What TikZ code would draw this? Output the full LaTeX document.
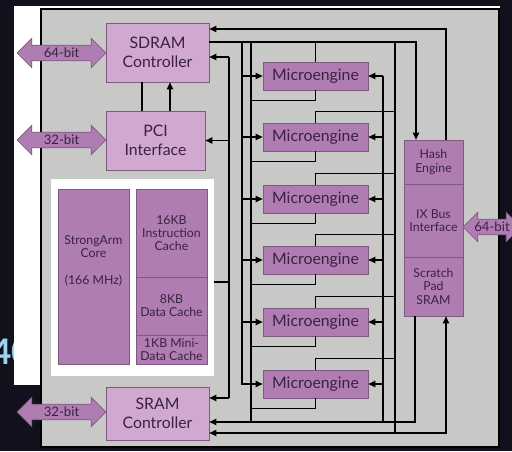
\documentclass[tikz,border=0pt]{standalone}
\usepackage{fontspec}
\setmainfont{Lato}
\usetikzlibrary{arrows.meta,shapes.arrows}

\definecolor{chipgray}{HTML}{C8C9C6}
\definecolor{lightpurple}{HTML}{D0A8D0}
\definecolor{darkpurple}{HTML}{B07DB2}
\definecolor{boxedge}{HTML}{7D5A80}
\definecolor{inkpurple}{HTML}{3A2140}
\definecolor{slate}{HTML}{10111C}
\definecolor{slideblue}{HTML}{9ED3F0}

\tikzset{
  ctrl/.style={draw=boxedge, fill=lightpurple, text=inkpurple, align=center,
    inner sep=0pt, font=\fontsize{9}{10.5}\selectfont},
  engine/.style={draw=boxedge, fill=darkpurple, text=inkpurple, inner sep=0pt,
    minimum width=2.1cm, minimum height=0.56cm, font=\fontsize{9}{10}\selectfont},
  unit/.style={draw=boxedge, fill=darkpurple, text=inkpurple, align=center,
    inner sep=0pt, minimum width=1.42cm, font=\fontsize{7}{7.5}\selectfont},
  unittext/.style={text=inkpurple, align=center, inner sep=0pt,
    font=\fontsize{7}{7.5}\selectfont},
  widebus/.style={shape=double arrow, draw=boxedge, fill=darkpurple, text=inkpurple,
    double arrow head extend=0.14cm, minimum height=1.78cm, inner xsep=0pt,
    inner ysep=1.5pt, text height=5.5pt, text depth=0pt,
    font=\fontsize{7.5}{8}\selectfont},
  bus/.style={draw=black, line width=0.75pt},
  sig/.style={-{Triangle[length=4pt,width=3.6pt]}},
  sigboth/.style={{Triangle[length=4pt,width=3.6pt]}-{Triangle[length=4pt,width=3.6pt]}}
}

\begin{document}
\begin{tikzpicture}[x=0.02cm,y=-0.02cm]
  \useasboundingbox (0,0) rectangle (512,451);
  % slide behind the figure
  \fill[slate] (0,0) rectangle (512,451);
  \node[anchor=west, text=slideblue, inner sep=0pt, font=\fontsize{20}{20}\selectfont\bfseries] (slidenum) at (-9,352) {40};
  \fill[white] (14,6) rectangle (41,385);
  \fill[white] (14,6) rectangle (500,9);
  % chip outline
  \filldraw[fill=chipgray, draw=black, line width=1pt] (41,9) rectangle (499,447);

  % controllers
  \node[ctrl, minimum width=2.06cm, minimum height=1.18cm] (sdram) at (157.5,52.5) {SDRAM\\Controller};
  \node[ctrl, minimum width=1.98cm, minimum height=1.18cm] (pci) at (155.5,140.5) {PCI\\Interface};
  \node[ctrl, minimum width=2.06cm, minimum height=1.06cm] (sram) at (157.5,413.5) {SRAM\\Controller};

  % strongarm block
  \node[fill=white, inner sep=0pt, minimum width=3.26cm, minimum height=3.94cm] (armbox) at (132.5,277.5) {};
  \node[unit, minimum height=3.5cm] (arm) at (93.5,276.5) {};
  \node[unittext] (armtxt) at (93.5,261) {StrongArm\\Core\\[8pt](166 MHz)};
  \node[unit, minimum height=1.76cm] (icache) at (171.5,233) {16KB\\Instruction\\Cache};
  \node[unit, minimum height=1.16cm] (dcache) at (171.5,306) {8KB\\Data Cache};
  \node[unit, minimum height=0.58cm] (mcache) at (171.5,349.5) {1KB Mini-\\Data Cache};

  % microengines
  \foreach \i/\y in {1/76,2/137,3/199,4/260,5/322,6/384}
    \node[engine] (me\i) at (315.5,\y) {Microengine};

  % right column
  \node[unit, minimum width=1.18cm, minimum height=0.88cm] (hash) at (433.5,162) {Hash\\Engine};
  \node[unit, minimum width=1.18cm, minimum height=1.46cm] (ixbus) at (433.5,220.5) {IX Bus\\Interface};
  \node[unit, minimum width=1.18cm, minimum height=1.18cm] (pad) at (433.5,286.5) {Scratch\\Pad\\SRAM};

  % external buses
  \node[widebus] (sdbit) at (61.5,53) {64-bit};
  \node[widebus] (pcibit) at (61.5,140) {32-bit};
  \node[widebus] (srbit) at (61.5,412) {32-bit};
  \node[widebus, minimum height=1.16cm] (ixbit) at (492,227) {64-bit};

  % internal bus taps
  \coordinate (inL) at (242,42);
  \coordinate (outL) at (251,42);
  \coordinate (inR) at (383,422);
  \coordinate (outR) at (395,42);
  \coordinate (armbus) at (229,57);

  % sdram bus
  \draw[bus, sig] (sdram.east |- 0,42) -| (416,0 |- hash.north);
  \draw[bus, sig] (446,0 |- hash.north) |- (sdram.east |- 0,29);
  \draw[bus] (142,0 |- sdram.south) -- (142,0 |- pci.north);
  \draw[bus, sig] (170,0 |- pci.north) -- (170,0 |- sdram.south);

  % strongarm bus
  \draw[bus] (armbox.east |- 0,282) -- (armbus |- 0,282);
  \draw[bus] (armbus) -- (armbus |- 0,398);
  \draw[bus, sig] (armbus) -- (sdram.east |- armbus);
  \draw[bus, sig] (pci.east -| armbus) -- (pci.east);
  \draw[bus, sig] (armbus |- 0,398) -- (sram.east |- 0,398);

  % microengine buses
  \draw[bus, sig] (inL) |- (me6.west);
  \foreach \i in {1,...,5}
    \draw[bus, sig] (me\i.west -| inL) -- (me\i.west);
  \draw[bus] (outL) -- (outL |- 0,422);
  \draw[bus] (outR) -- (outR |- 0,433);
  \draw[bus] (inR |- me1.east) -- (inR);
  \foreach \i in {1,...,6}
    \draw[bus, sig] (me\i.east -| inR) -- (me\i.east);
  \draw[bus] (me1.north) -- (me1.north |- 0,42);
  \foreach \i in {2,...,6}
    \draw[bus] (me\i.north) |- ([yshift=0.22cm]me\i.north -| outR);
  \foreach \i in {1,...,6}
    \draw[bus] (me\i.south) |- ([yshift=-0.2cm]me\i.south -| outL);

  % sram bus
  \draw[bus, sig] (415,0 |- pad.south) |- (sram.east |- 0,422);
  \draw[bus, sigboth] (sram.east |- 0,433) -| (446,0 |- pad.south);
\end{tikzpicture}
\end{document}
